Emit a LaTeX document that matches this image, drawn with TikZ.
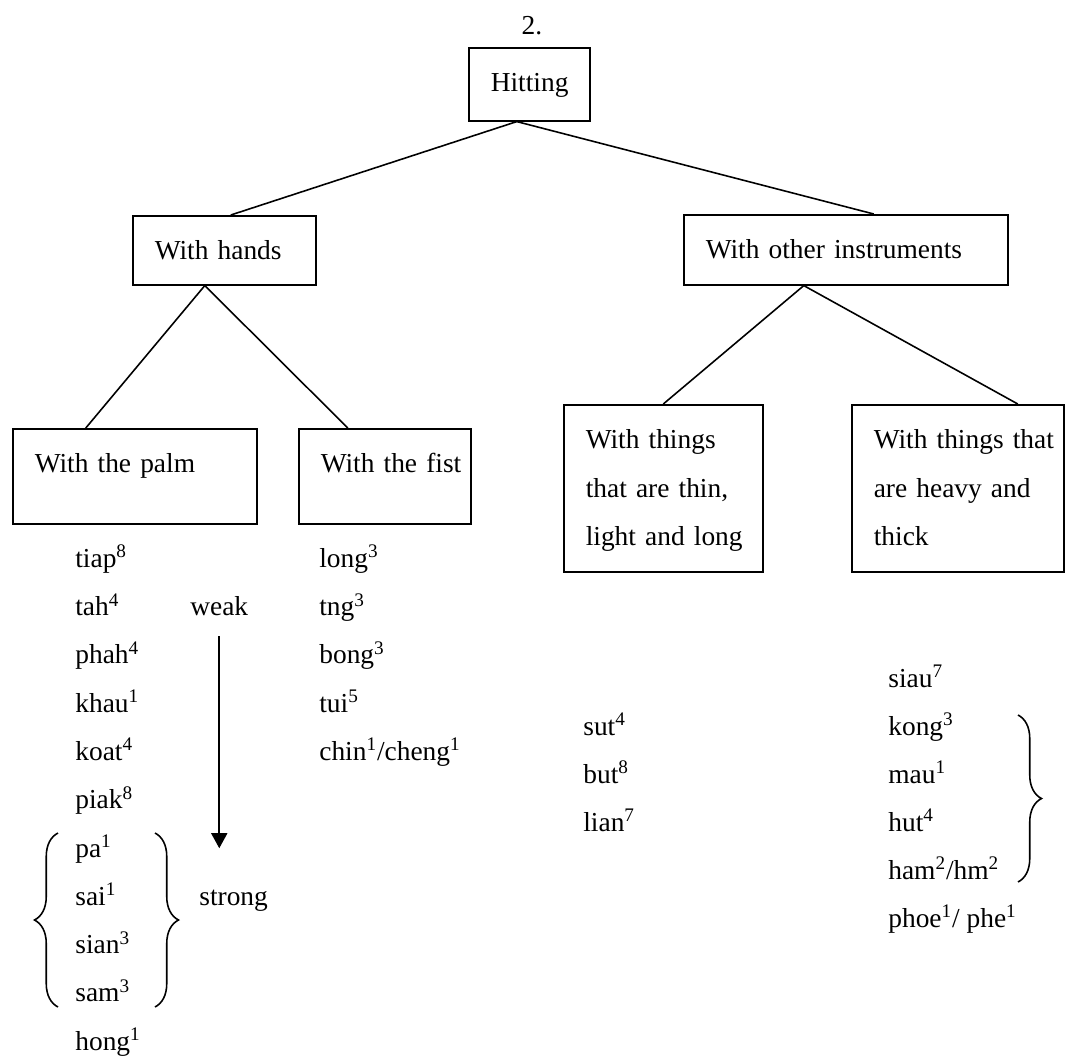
\documentclass[tikz,border=0pt]{standalone}
\usepackage{fontspec}
\setmainfont{Liberation Serif}
\usepackage{tikz}
\usetikzlibrary{arrows.meta,decorations.pathreplacing}
\newcommand{\wordfont}{\fontsize{15.6}{27.5}\selectfont}
\newcommand{\tone}[1]{\textsuperscript{#1}}
\hyphenpenalty=10000

\begin{document}
\begin{tikzpicture}[
  box/.style={rectangle, draw, line width=0.9pt, anchor=north west, inner xsep=0.44cm,
              inner ysep=0pt, align=left, font=\wordfont, text height=0.88cm},
  wd/.style={anchor=base west, inner sep=0pt, font=\wordfont},
  link/.style={line width=0.9pt},
  arr/.style={-{Triangle[width=0.32cm,length=0.3cm]}, line width=0.9pt},
  brc/.style={decorate, decoration={brace, amplitude=0.47cm}, line width=0.9pt}
]
\useasboundingbox (0,0) rectangle (21.3,-21.12);

\node[wd, anchor=base] (num) at (10.64,-0.68) {2.};
\node[box, text width=1.54cm, text depth=0.58cm] (hit) at (9.36,-0.94) {Hitting};

\node[box, text width=2.78cm, text depth=0.50cm] (hands) at (2.64,-4.30) {With hands};
\node[box, text width=5.60cm, text depth=0.52cm] (other) at (13.66,-4.28) {With other instruments};

\node[box, text width=4.00cm, text depth=1.02cm] (palm) at (0.24,-8.56) {With the palm};
\node[box, text width=2.56cm, text depth=1.02cm] (fist) at (5.96,-8.56) {\mbox{With the fist}};
\node[box, text width=3.10cm, text depth=2.46cm] (thin) at (11.26,-8.08)
   {\mbox{With things}\\ \mbox{that are thin,}\\ \mbox{light and long}};
\node[box, text width=3.36cm, text depth=2.46cm] (heavy) at (17.02,-8.08)
   {\mbox{With things that}\\ \mbox{are heavy and}\\ thick};

\draw[link] ([xshift=-0.25cm]hit.south) -- ([xshift=0.13cm]hands.north);
\draw[link] ([xshift=-0.25cm]hit.south) -- ([xshift=0.56cm]other.north);
\draw[link] ([xshift=-0.39cm]hands.south) -- ([xshift=-0.98cm]palm.north);
\draw[link] ([xshift=-0.39cm]hands.south) -- ([xshift=-0.74cm]fist.north);
\draw[link] ([xshift=-0.84cm]other.south) -- (thin.north);
\draw[link] ([xshift=-0.84cm]other.south) -- ([xshift=1.2cm]heavy.north);

\node[wd] (tiap) at (1.50,-11.34) {tiap\tone{8}};
\node[wd] (tah)  at (1.50,-12.31) {tah\tone{4}};
\node[wd] (phah) at (1.50,-13.27) {phah\tone{4}};
\node[wd] (khau) at (1.50,-14.24) {khau\tone{1}};
\node[wd] (koat) at (1.50,-15.20) {koat\tone{4}};
\node[wd] (piak) at (1.50,-16.17) {piak\tone{8}};
\node[wd] (pa)   at (1.50,-17.14) {pa\tone{1}};
\node[wd] (sai)  at (1.50,-18.10) {sai\tone{1}};
\node[wd] (sian) at (1.50,-19.07) {sian\tone{3}};
\node[wd] (sam)  at (1.50,-20.03) {sam\tone{3}};
\node[wd] (hong) at (1.50,-21.00) {hong\tone{1}};

\node[wd] (weak)   at (3.80,-12.31) {weak};
\node[wd] (strong) at (3.98,-18.10) {strong};
\draw[arr, shorten <=0.4cm, shorten >=0.82cm] (weak.south) -- (weak.south |- strong.north);

\draw[brc] (1.16,-20.14) -- (1.16,-16.66);
\draw[brc] (3.10,-16.66) -- (3.10,-20.14);

\node[wd] (long) at (6.38,-11.34) {long\tone{3}};
\node[wd] (tng)  at (6.38,-12.31) {tng\tone{3}};
\node[wd] (bong) at (6.38,-13.27) {bong\tone{3}};
\node[wd] (tui)  at (6.38,-14.24) {tui\tone{5}};
\node[wd] (chin) at (6.38,-15.20) {chin\tone{1}/cheng\tone{1}};

\node[wd] (sut)  at (11.66,-14.70) {sut\tone{4}};
\node[wd] (but)  at (11.66,-15.66) {but\tone{8}};
\node[wd] (lian) at (11.66,-16.62) {lian\tone{7}};

\node[wd] (siau) at (17.76,-13.74) {siau\tone{7}};
\node[wd] (kong) at (17.76,-14.70) {kong\tone{3}};
\node[wd] (mau)  at (17.76,-15.66) {mau\tone{1}};
\node[wd] (hut)  at (17.76,-16.62) {hut\tone{4}};
\node[wd] (ham)  at (17.76,-17.58) {ham\tone{2}/hm\tone{2}};
\node[wd] (phoe) at (17.76,-18.54) {phoe\tone{1}/ phe\tone{1}};

\draw[brc] (20.36,-14.30) -- (20.36,-17.64);
\end{tikzpicture}
\end{document}
